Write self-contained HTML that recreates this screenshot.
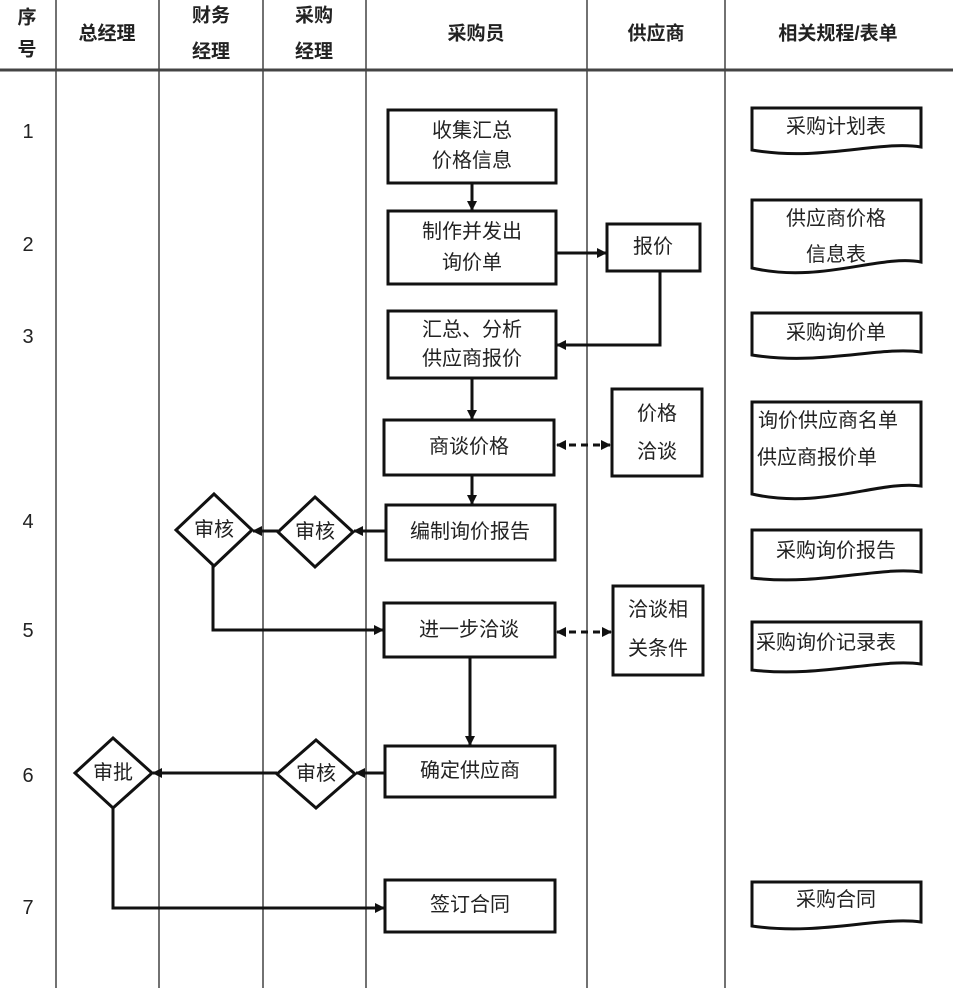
<!DOCTYPE html>
<html><head><meta charset="utf-8"><style>
html,body{margin:0;padding:0;background:#fff;}
svg{display:block;}
text{font-family:"Liberation Sans","Noto Sans CJK SC","WenQuanYi Zen Hei",sans-serif;fill:#222;font-size:20px;text-anchor:middle;dominant-baseline:central;}
.h{font-weight:bold;font-size:19px;}
.b{fill:#fff;stroke:#111;stroke-width:3;}
.l{fill:none;stroke:#111;stroke-width:3;}
.g{stroke:#444;stroke-width:1.5;}
</style></head><body>
<svg width="953" height="988" viewBox="0 0 953 988" xmlns="http://www.w3.org/2000/svg">
<defs><marker id="a" markerWidth="10" markerHeight="10" refX="9" refY="5" orient="auto" markerUnits="userSpaceOnUse"><path d="M0,0 L10,5 L0,10 z" fill="#111"/></marker>
<marker id="s" markerWidth="10" markerHeight="10" refX="1" refY="5" orient="auto" markerUnits="userSpaceOnUse"><path d="M10,0 L0,5 L10,10 z" fill="#111"/></marker></defs>
<!-- grid -->
<g class="g">
<line x1="56" y1="0" x2="56" y2="988"/><line x1="159" y1="0" x2="159" y2="988"/>
<line x1="263" y1="0" x2="263" y2="988"/><line x1="366" y1="0" x2="366" y2="988"/>
<line x1="587" y1="0" x2="587" y2="988"/><line x1="725" y1="0" x2="725" y2="988"/>
<line x1="0" y1="70" x2="953" y2="70" stroke-width="3"/>
</g>
<text class="h" x="27" y="18">序</text><text class="h" x="27" y="50">号</text>
<text class="h" x="107" y="34">总经理</text>
<text class="h" x="211" y="16">财务</text><text class="h" x="211" y="52">经理</text>
<text class="h" x="314" y="16">采购</text><text class="h" x="314" y="52">经理</text>
<text class="h" x="476" y="34">采购员</text>
<text class="h" x="656" y="34">供应商</text>
<text class="h" x="838" y="34">相关规程/表单</text>
<g font-size="20">
<text x="28" y="132">1</text><text x="28" y="245">2</text><text x="28" y="337">3</text><text x="28" y="522">4</text><text x="28" y="631">5</text><text x="28" y="776">6</text><text x="28" y="908">7</text>
</g>
<!-- connectors -->
<g class="l">
<line x1="472" y1="183" x2="472" y2="210" marker-end="url(#a)"/>
<line x1="556" y1="253" x2="606" y2="253" marker-end="url(#a)"/>
<polyline points="660,271 660,345 557,345" marker-end="url(#a)"/>
<line x1="472" y1="378" x2="472" y2="419" marker-end="url(#a)"/>
<line x1="472" y1="475" x2="472" y2="504" marker-end="url(#a)"/>
<line x1="557" y1="445" x2="610" y2="445" stroke-dasharray="7,5" marker-start="url(#s)" marker-end="url(#a)"/>
<line x1="557" y1="632" x2="611" y2="632" stroke-dasharray="7,5" marker-start="url(#s)" marker-end="url(#a)"/>
<line x1="386" y1="531" x2="354" y2="531" marker-end="url(#a)"/>
<line x1="278" y1="531" x2="253" y2="531" marker-end="url(#a)"/>
<polyline points="213,564 213,630 383,630" marker-end="url(#a)"/>
<line x1="470" y1="657" x2="470" y2="745" marker-end="url(#a)"/>
<line x1="385" y1="773" x2="356" y2="773" marker-end="url(#a)"/>
<line x1="277" y1="773" x2="153" y2="773" marker-end="url(#a)"/>
<polyline points="113,808 113,908 384,908" marker-end="url(#a)"/>
</g>
<!-- boxes -->
<rect class="b" x="388" y="110" width="168" height="73"/><text x="472" y="131">收集汇总</text><text x="472" y="161">价格信息</text>
<rect class="b" x="388" y="211" width="168" height="73"/><text x="472" y="232">制作并发出</text><text x="472" y="263">询价单</text>
<rect class="b" x="607" y="224" width="93" height="47"/><text x="653" y="247">报价</text>
<rect class="b" x="388" y="311" width="168" height="67"/><text x="472" y="330">汇总、分析</text><text x="472" y="359">供应商报价</text>
<rect class="b" x="384" y="420" width="170" height="55"/><text x="469" y="447">商谈价格</text>
<rect class="b" x="612" y="389" width="90" height="87"/><text x="657" y="414">价格</text><text x="657" y="452">洽谈</text>
<rect class="b" x="386" y="505" width="169" height="55"/><text x="470" y="532">编制询价报告</text>
<rect class="b" x="384" y="603" width="171" height="54"/><text x="469" y="630">进一步洽谈</text>
<rect class="b" x="613" y="586" width="90" height="89"/><text x="658" y="610">洽谈相</text><text x="658" y="649">关条件</text>
<rect class="b" x="385" y="746" width="170" height="51"/><text x="470" y="771">确定供应商</text>
<rect class="b" x="385" y="880" width="170" height="52"/><text x="470" y="905">签订合同</text>
<!-- diamonds -->
<polygon class="b" points="214,494 252,530 214,566 176,530"/><text x="214" y="530">审核</text>
<polygon class="b" points="315,497 353,532 315,567 278,532"/><text x="315" y="532">审核</text>
<polygon class="b" points="113,738 152,773 113,808 75,773"/><text x="113" y="773">审批</text>
<polygon class="b" points="316,740 355,774 316,808 277,774"/><text x="316" y="774">审核</text>
<!-- documents -->
<g class="b">
<path d="M752,108 H921 V147 C880,140 820,162 752,150 Z"/>
<path d="M752,200 H921 V262 C880,254 820,284 752,268 Z"/>
<path d="M752,313 H921 V352 C880,346 820,366 752,355 Z"/>
<path d="M752,402 H921 V486 C880,480 820,510 752,494 Z"/>
<path d="M752,530 H921 V572 C880,566 820,586 752,578 Z"/>
<path d="M752,622 H921 V664 C880,658 820,678 752,670 Z"/>
<path d="M752,882 H921 V922 C880,916 820,936 752,926 Z"/>
</g>
<text x="836" y="127">采购计划表</text>
<text x="836" y="219">供应商价格</text><text x="836" y="255">信息表</text>
<text x="836" y="333">采购询价单</text>
<text x="828" y="421">询价供应商名单</text><text x="817" y="458">供应商报价单</text>
<text x="836" y="551">采购询价报告</text>
<text x="826" y="643">采购询价记录表</text>
<text x="836" y="900">采购合同</text>
</svg>
</body></html>
